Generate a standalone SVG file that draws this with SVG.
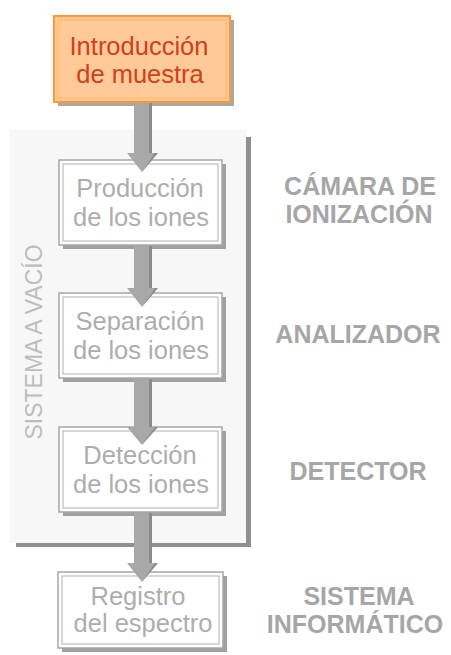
<svg xmlns="http://www.w3.org/2000/svg" width="451" height="655" viewBox="0 0 451 655">
<style>
.bt{font-family:"Liberation Sans",Arial,sans-serif;font-size:25.5px;fill:#ADADAD;text-anchor:middle}
.lab{font-family:"Liberation Sans",Arial,sans-serif;font-size:25px;font-weight:bold;fill:#A6A6A6;text-anchor:middle}
.shadow{fill:#A0A0A0}
.outer{fill:#FFFFFF;stroke:#A6A6A6;stroke-width:1.5}
.inner{fill:none;stroke:#B0B0B0;stroke-width:1}
.ar{fill:#A8A8A8}
.ard{fill:#8A8A8A}
</style>
<rect x="0" y="0" width="451" height="655" fill="#FFFFFF"/>
<g id="panel">
<rect x="16" y="137" width="235" height="410" fill="#8F8F8F"/>
<rect x="10" y="130" width="236" height="413" fill="#F7F7F7"/>
<text transform="translate(42,342) rotate(-90)" font-family="Liberation Sans, Arial, sans-serif" font-size="23" fill="#BDBDBD" text-anchor="middle">SISTEMA A VACÍO</text>
</g>
<g id="node-intro">
<rect x="58" y="20" width="176" height="86" fill="#A8A8A8"/>
<rect x="54" y="16" width="176" height="86" fill="#FFCA98" stroke="#FF9A33" stroke-width="2"/>
<rect x="58" y="20" width="168" height="78" fill="none" stroke="#FFB56A" stroke-width="1"/>
<text x="139" y="55" font-family="Liberation Sans, Arial, sans-serif" font-size="25.5" fill="#D0401A" text-anchor="middle">Introducción</text>
<text x="140" y="83" font-family="Liberation Sans, Arial, sans-serif" font-size="25.5" fill="#D0401A" text-anchor="middle">de muestra</text>
</g>
<g id="node-produccion">
<rect class="shadow" x="63" y="164" width="163" height="85"/>
<rect class="outer" x="59" y="160" width="163" height="85"/>
<rect class="inner" x="63" y="164" width="155" height="77"/>
<text class="bt" x="140" y="197">Producción</text>
<text class="bt" x="141" y="226">de los iones</text>
</g>
<g id="node-separacion">
<rect class="shadow" x="63" y="297" width="163" height="85"/>
<rect class="outer" x="59" y="293" width="163" height="85"/>
<rect class="inner" x="63" y="297" width="155" height="77"/>
<text class="bt" x="140" y="330">Separación</text>
<text class="bt" x="141" y="359">de los iones</text>
</g>
<g id="node-deteccion">
<rect class="shadow" x="63" y="431" width="163" height="85"/>
<rect class="outer" x="59" y="427" width="163" height="85"/>
<rect class="inner" x="63" y="431" width="155" height="77"/>
<text class="bt" x="140" y="464">Detección</text>
<text class="bt" x="141" y="493">de los iones</text>
</g>
<g id="node-registro">
<rect class="shadow" x="62" y="576" width="165" height="76"/>
<rect class="outer" x="58" y="572" width="165" height="76"/>
<rect class="inner" x="62" y="576" width="157" height="68"/>
<text class="bt" x="138" y="605">Registro</text>
<text class="bt" x="143" y="632">del espectro</text>
</g>
<g id="labels">
<text class="lab" x="360" y="195">CÁMARA DE</text>
<text class="lab" x="359" y="223">IONIZACIÓN</text>
<text class="lab" x="358" y="343">ANALIZADOR</text>
<text class="lab" x="358" y="480">DETECTOR</text>
<text class="lab" x="359" y="605">SISTEMA</text>
<text class="lab" x="355" y="633">INFORMÁTICO</text>
</g>
<g id="connectors">
<path class="ar" d="M134 103 H149 V153 H157 L142 172 L127 153 H134 Z"/>
<path class="ard" d="M149 103 H152 V153 H158 L142 172 L155 153 H149 Z"/>
<path class="ar" d="M134 246 H149 V288 H157 L142 307 L127 288 H134 Z"/>
<path class="ard" d="M149 246 H152 V288 H158 L142 307 L155 288 H149 Z"/>
<path class="ar" d="M134 379 H149 V427 H157 L142 445 L127 427 H134 Z"/>
<path class="ard" d="M149 379 H152 V427 H158 L142 445 L155 427 H149 Z"/>
<path class="ar" d="M134 513 H149 V563 H157 L142 582 L127 563 H134 Z"/>
<path class="ard" d="M149 513 H152 V563 H158 L142 582 L155 563 H149 Z"/>
</g>
</svg>
